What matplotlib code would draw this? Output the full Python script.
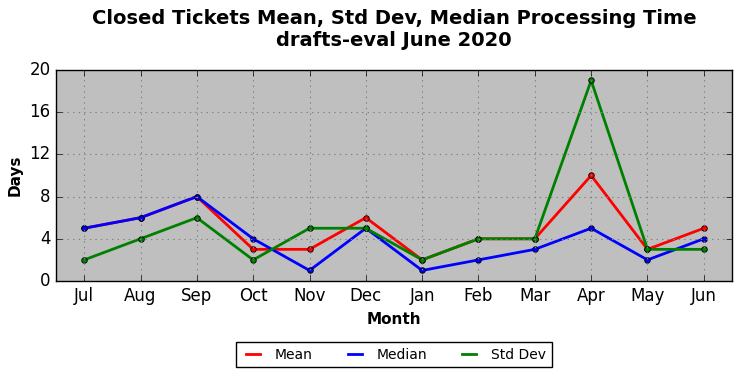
#!/usr/bin/env python
# -*- coding: utf-8 -*-
"""
closed tickets processing time chart
"""

import matplotlib
matplotlib.use("Agg")
import matplotlib.pyplot as plt

months = ["Jul", "Aug", "Sep", "Oct", "Nov", "Dec",
          "Jan", "Feb", "Mar", "Apr", "May", "Jun"]
mean_days = [5, 6, 8, 3, 3, 6, 2, 4, 4, 10, 3, 5]
median_days = [5, 6, 8, 4, 1, 5, 1, 2, 3, 5, 2, 4]
std_days = [2, 4, 6, 2, 5, 5, 2, 4, 4, 19, 3, 3]
y_ticks = [0, 4, 8, 12, 16, 20]

plt.style.use("classic")
fig = plt.figure(figsize=(7.42, 3.78), dpi=100)
fig.patch.set_facecolor("white")
ax = fig.add_axes([0.0755, 0.2566, 0.911, 0.5584])
ax.set_facecolor("#bfbfbf")

x = list(range(len(months)))
series = [(mean_days, "red", "Mean"),
          (median_days, "blue", "Median"),
          (std_days, "green", "Std Dev")]
handles = []
for values, color, label in series:
    ax.plot(x, values, color=color, lw=2, marker="o", ms=4,
            mec="black", mew=0.6)
    handles.append(plt.Line2D([], [], color=color, lw=2, label=label))

ax.set_xlim(-0.5, len(months) - 0.5)
ax.set_ylim(0, 20)
ax.set_xticks(x)
ax.set_xticklabels(months, fontsize=12)
ax.set_yticks(y_ticks)
ax.tick_params(axis="y", labelsize=12)
ax.grid(True, color="grey", linestyle=":", linewidth=0.8)
for spine in ax.spines.values():
    spine.set_zorder(5)
ax.set_xlabel("Month", fontsize=11, fontweight="bold")
ax.set_ylabel("Days", fontsize=11, fontweight="bold")

fig.suptitle("Closed Tickets Mean, Std Dev, Median Processing Time\n"
             "drafts-eval June 2020",
             fontsize=14, fontweight="bold", x=0.531, y=0.975)

leg = fig.legend(handles=handles, loc="center", ncol=3,
                 bbox_to_anchor=(0.531, 0.061), fontsize=10,
                 fancybox=False, handlelength=1.6, columnspacing=2.2,
                 borderpad=0.4)
leg.get_frame().set_edgecolor("black")

fig.savefig("out.png", dpi=100, facecolor="white")
